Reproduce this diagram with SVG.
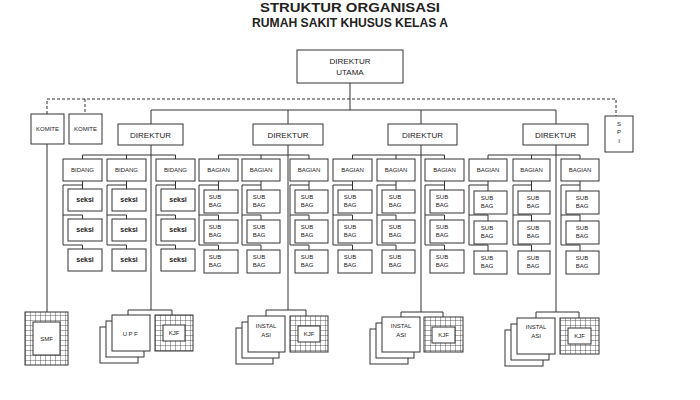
<svg xmlns="http://www.w3.org/2000/svg" width="700" height="400" viewBox="0 0 700 400">
<style>
.b{fill:#fff;stroke:#333;stroke-width:1}
.l{fill:none;stroke:#333;stroke-width:1}
.d{fill:none;stroke:#333;stroke-width:1;stroke-dasharray:3,2}
text{font-family:"Liberation Sans",Arial,sans-serif;fill:#222;text-anchor:middle}
.s{font-size:6px}
.m{font-size:8px}
.k{font-size:7px;font-weight:bold}
.t{font-size:12px;font-weight:bold}
</style>
<defs>
<pattern id="g" width="5" height="5" patternUnits="userSpaceOnUse"><rect width="5" height="5" fill="#fff"/><path d="M0 0H5M0 0V5" stroke="#333" stroke-width="0.8"/></pattern>
</defs>
<rect width="700" height="400" fill="#fff"/>
<g id="title">
<text class="t" x="350" y="12" textLength="180" lengthAdjust="spacingAndGlyphs">STRUKTUR ORGANISASI</text>
<text class="t" x="350" y="27" textLength="196" lengthAdjust="spacingAndGlyphs">RUMAH SAKIT KHUSUS KELAS A</text>
</g>
<g id="connectors">
<path class="d" d="M47 114V99H616V116M85 99V114"/>
<path class="l" d="M350 83V110M151 110H556M151 110V124M288 110V124M421 110V124M556 110V124"/>
<path class="l" d="M151 145V310M288 145V310M421 145V312M556 145V312M47 144V312"/>
<path class="l" d="M82.5 155H175.5M82.5 155V159M126.5 155V159M175.5 155V159"/>
<path class="l" d="M218.5 155H309M218.5 155V159M261 155V159M309 155V159"/>
<path class="l" d="M352.5 155H444.5M352.5 155V159M396 155V159M444.5 155V159"/>
<path class="l" d="M488 155H580M488 155V159M531.5 155V159M580 155V159"/>
<path class="l" d="M128 315V310H172V315M266 316V310H306V316M401 317V312H443V317M536 318V312H579V318"/>
</g>
<g id="direktur-utama"><rect class="b" x="297" y="50" width="106" height="33"/><text class="m" x="350" y="64">DIREKTUR</text><text class="m" x="350" y="75">UTAMA</text></g>
<g id="komite1"><rect class="b" x="31" y="114" width="33" height="30"/><text class="s" x="47.5" y="131">KOMITE</text></g>
<g id="komite2"><rect class="b" x="69" y="114" width="33" height="30"/><text class="s" x="85.5" y="131">KOMITE</text></g>
<g id="spi"><rect class="b" x="605" y="116" width="28" height="36"/><text class="s" x="619" y="126">S</text><text class="s" x="619" y="134">P</text><text class="s" x="619" y="143">I</text></g>
<g id="dir1"><rect class="b" x="118" y="124" width="65" height="21"/><text class="m" x="150.5" y="137.5">DIREKTUR</text></g>
<g id="dir2"><rect class="b" x="253" y="124" width="70" height="21"/><text class="m" x="288" y="137.5">DIREKTUR</text></g>
<g id="dir3"><rect class="b" x="388" y="124" width="69" height="21"/><text class="m" x="422.5" y="137.5">DIREKTUR</text></g>
<g id="dir4"><rect class="b" x="523" y="124" width="65" height="21"/><text class="m" x="555.5" y="137.5">DIREKTUR</text></g>

<g id="bidang1"><rect class="b" x="63" y="159" width="39" height="22"/><text class="s" x="82.5" y="172">BIDANG</text>
<path class="l" d="M82.5 181V189M82.5 185H63V245H82.5V249M63 215H82.5V219"/>
<rect class="b" x="68" y="189" width="34" height="22"/><text class="k" x="85" y="202">seksi</text>
<rect class="b" x="68" y="219" width="34" height="22"/><text class="k" x="85" y="232">seksi</text>
<rect class="b" x="68" y="249" width="34" height="22"/><text class="k" x="85" y="262">seksi</text></g>
<g id="bidang2"><rect class="b" x="107" y="159" width="39" height="22"/><text class="s" x="126.5" y="172">BIDANG</text>
<path class="l" d="M126.5 181V189M126.5 185H107V245H126.5V249M107 215H126.5V219"/>
<rect class="b" x="112" y="189" width="34" height="22"/><text class="k" x="129" y="202">seksi</text>
<rect class="b" x="112" y="219" width="34" height="22"/><text class="k" x="129" y="232">seksi</text>
<rect class="b" x="112" y="249" width="34" height="22"/><text class="k" x="129" y="262">seksi</text></g>
<g id="bidang3"><rect class="b" x="156" y="159" width="39" height="22"/><text class="s" x="175.5" y="172">BIDANG</text>
<path class="l" d="M175.5 181V189M175.5 185H156V245H175.5V249M156 215H175.5V219"/>
<rect class="b" x="161" y="189" width="34" height="22"/><text class="k" x="178" y="202">seksi</text>
<rect class="b" x="161" y="219" width="34" height="22"/><text class="k" x="178" y="232">seksi</text>
<rect class="b" x="161" y="249" width="34" height="22"/><text class="k" x="178" y="262">seksi</text></g>

<g id="bagian1"><rect class="b" x="199" y="159" width="39" height="22"/><text class="s" x="218.5" y="172">BAGIAN</text>
<path class="l" d="M218.5 181V190M218.5 185H199V245H218.5V250M199 215H218.5V220"/>
<rect class="b" x="204" y="190" width="34" height="23"/><text class="s" x="215" y="199">SUB</text><text class="s" x="215" y="207">BAG</text>
<rect class="b" x="204" y="220" width="34" height="23"/><text class="s" x="215" y="229">SUB</text><text class="s" x="215" y="237">BAG</text>
<rect class="b" x="204" y="250" width="34" height="23"/><text class="s" x="215" y="259">SUB</text><text class="s" x="215" y="267">BAG</text></g>
<g id="bagian2"><rect class="b" x="242" y="159" width="38" height="22"/><text class="s" x="261" y="172">BAGIAN</text>
<path class="l" d="M261 181V190M261 185H242V245H261V250M242 215H261V220"/>
<rect class="b" x="247" y="190" width="33" height="23"/><text class="s" x="259" y="199">SUB</text><text class="s" x="259" y="207">BAG</text>
<rect class="b" x="247" y="220" width="33" height="23"/><text class="s" x="259" y="229">SUB</text><text class="s" x="259" y="237">BAG</text>
<rect class="b" x="247" y="250" width="33" height="23"/><text class="s" x="259" y="259">SUB</text><text class="s" x="259" y="267">BAG</text></g>
<g id="bagian3"><rect class="b" x="290" y="159" width="38" height="22"/><text class="s" x="309" y="172">BAGIAN</text>
<path class="l" d="M309 181V190M309 185H290V245H309V250M290 215H309V220"/>
<rect class="b" x="295" y="190" width="33" height="23"/><text class="s" x="307" y="199">SUB</text><text class="s" x="307" y="207">BAG</text>
<rect class="b" x="295" y="220" width="33" height="23"/><text class="s" x="307" y="229">SUB</text><text class="s" x="307" y="237">BAG</text>
<rect class="b" x="295" y="250" width="33" height="23"/><text class="s" x="307" y="259">SUB</text><text class="s" x="307" y="267">BAG</text></g>

<g id="bagian4"><rect class="b" x="333" y="159" width="39" height="22"/><text class="s" x="352.5" y="172">BAGIAN</text>
<path class="l" d="M352.5 181V190M352.5 185H333V245H352.5V250M333 215H352.5V220"/>
<rect class="b" x="338" y="190" width="34" height="23"/><text class="s" x="350" y="199">SUB</text><text class="s" x="350" y="207">BAG</text>
<rect class="b" x="338" y="220" width="34" height="23"/><text class="s" x="350" y="229">SUB</text><text class="s" x="350" y="237">BAG</text>
<rect class="b" x="338" y="250" width="34" height="23"/><text class="s" x="350" y="259">SUB</text><text class="s" x="350" y="267">BAG</text></g>
<g id="bagian5"><rect class="b" x="377" y="159" width="38" height="22"/><text class="s" x="396" y="172">BAGIAN</text>
<path class="l" d="M396 181V190M396 185H377V245H396V250M377 215H396V220"/>
<rect class="b" x="382" y="190" width="33" height="23"/><text class="s" x="395" y="199">SUB</text><text class="s" x="395" y="207">BAG</text>
<rect class="b" x="382" y="220" width="33" height="23"/><text class="s" x="395" y="229">SUB</text><text class="s" x="395" y="237">BAG</text>
<rect class="b" x="382" y="250" width="33" height="23"/><text class="s" x="395" y="259">SUB</text><text class="s" x="395" y="267">BAG</text></g>
<g id="bagian6"><rect class="b" x="425" y="159" width="39" height="22"/><text class="s" x="444.5" y="172">BAGIAN</text>
<path class="l" d="M444.5 181V190M444.5 185H425V245H444.5V250M425 215H444.5V220"/>
<rect class="b" x="430" y="190" width="34" height="23"/><text class="s" x="442" y="199">SUB</text><text class="s" x="442" y="207">BAG</text>
<rect class="b" x="430" y="220" width="34" height="23"/><text class="s" x="442" y="229">SUB</text><text class="s" x="442" y="237">BAG</text>
<rect class="b" x="430" y="250" width="34" height="23"/><text class="s" x="442" y="259">SUB</text><text class="s" x="442" y="267">BAG</text></g>

<g id="bagian7"><rect class="b" x="469" y="159" width="38" height="22"/><text class="s" x="488" y="172">BAGIAN</text>
<path class="l" d="M488 181V191M488 185H469V245H488V251M469 215H488V221"/>
<rect class="b" x="474" y="191" width="33" height="23"/><text class="s" x="487" y="200">SUB</text><text class="s" x="487" y="208">BAG</text>
<rect class="b" x="474" y="221" width="33" height="23"/><text class="s" x="487" y="230">SUB</text><text class="s" x="487" y="238">BAG</text>
<rect class="b" x="474" y="251" width="33" height="23"/><text class="s" x="487" y="260">SUB</text><text class="s" x="487" y="268">BAG</text></g>
<g id="bagian8"><rect class="b" x="513" y="159" width="37" height="22"/><text class="s" x="531.5" y="172">BAGIAN</text>
<path class="l" d="M531.5 181V191M531.5 185H513V245H531.5V251M513 215H531.5V221"/>
<rect class="b" x="518" y="191" width="32" height="23"/><text class="s" x="533" y="200">SUB</text><text class="s" x="533" y="208">BAG</text>
<rect class="b" x="518" y="221" width="32" height="23"/><text class="s" x="533" y="230">SUB</text><text class="s" x="533" y="238">BAG</text>
<rect class="b" x="518" y="251" width="32" height="23"/><text class="s" x="533" y="260">SUB</text><text class="s" x="533" y="268">BAG</text></g>
<g id="bagian9"><rect class="b" x="561" y="159" width="38" height="22"/><text class="s" x="580" y="172">BAGIAN</text>
<path class="l" d="M580 181V191M580 185H561V245H580V251M561 215H580V221"/>
<rect class="b" x="566" y="191" width="33" height="23"/><text class="s" x="582" y="200">SUB</text><text class="s" x="582" y="208">BAG</text>
<rect class="b" x="566" y="221" width="33" height="23"/><text class="s" x="582" y="230">SUB</text><text class="s" x="582" y="238">BAG</text>
<rect class="b" x="566" y="251" width="33" height="23"/><text class="s" x="582" y="260">SUB</text><text class="s" x="582" y="268">BAG</text></g>

<g id="smf"><rect x="25" y="312" width="43" height="53" fill="url(#g)" stroke="#333"/><rect class="b" x="33" y="322" width="27" height="33"/><text class="s" x="46.5" y="341">SMF</text></g>

<g id="upf"><rect class="b" x="100" y="327" width="38" height="36"/><rect class="b" x="106" y="321" width="38" height="36"/><rect class="b" x="112" y="315" width="38" height="36"/><text class="s" x="131" y="336" letter-spacing="1.5">UPF</text></g>
<g id="kjf1"><rect x="155" y="315" width="38" height="36" fill="url(#g)" stroke="#333"/><rect class="b" x="163" y="325" width="22" height="16"/><text class="s" x="174" y="335">KJF</text></g>

<g id="instalasi1"><rect class="b" x="236" y="328" width="37" height="36"/><rect class="b" x="242" y="322" width="37" height="36"/><rect class="b" x="248" y="316" width="37" height="36"/><text class="s" x="266" y="328">INSTAL</text><text class="s" x="266" y="337">ASI</text></g>
<g id="kjf2"><rect x="290" y="316" width="38" height="36" fill="url(#g)" stroke="#333"/><rect class="b" x="298" y="326" width="22" height="16"/><text class="s" x="309" y="336">KJF</text></g>

<g id="instalasi2"><rect class="b" x="370" y="329" width="38" height="35"/><rect class="b" x="376" y="323" width="38" height="35"/><rect class="b" x="382" y="317" width="38" height="35"/><text class="s" x="401" y="328">INSTAL</text><text class="s" x="401" y="337">ASI</text></g>
<g id="kjf3"><rect x="424" y="317" width="39" height="35" fill="url(#g)" stroke="#333"/><rect class="b" x="432" y="327" width="23" height="16"/><text class="s" x="443.5" y="337">KJF</text></g>

<g id="instalasi3"><rect class="b" x="505" y="330" width="38" height="36"/><rect class="b" x="511" y="324" width="38" height="36"/><rect class="b" x="517" y="318" width="38" height="36"/><text class="s" x="536" y="329">INSTAL</text><text class="s" x="536" y="338">ASI</text></g>
<g id="kjf4"><rect x="560" y="318" width="39" height="36" fill="url(#g)" stroke="#333"/><rect class="b" x="568" y="328" width="23" height="16"/><text class="s" x="579.5" y="338">KJF</text></g>
</svg>
